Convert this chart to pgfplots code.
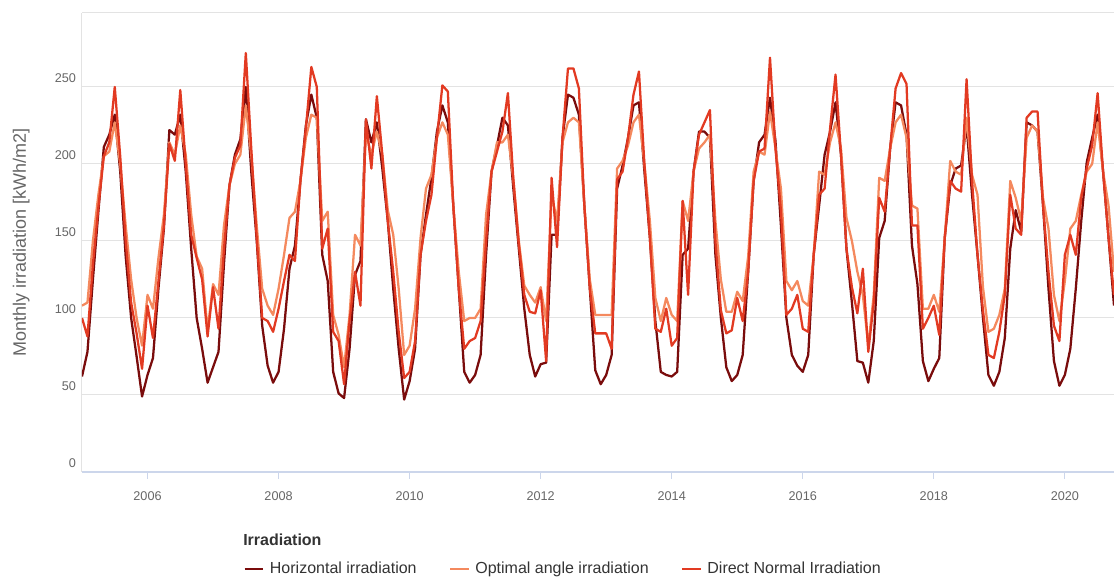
\documentclass[border=0pt]{standalone}
\usepackage{fontspec}
\setmainfont{Liberation Sans}
\usepackage{pgfplots}
\usepackage{pgfplotstable}
\pgfplotsset{compat=1.18}
\definecolor{cH}{HTML}{7A0C0C}
\definecolor{cO}{HTML}{F4895E}
\definecolor{cD}{HTML}{E23A22}
\definecolor{gridc}{HTML}{E3E3E3}
\definecolor{axisc}{HTML}{CCD6EB}
\definecolor{labc}{HTML}{666666}
\definecolor{legc}{HTML}{333333}

\pgfplotstableread{
n H O D
0 62 108 100
1 78 110 88
2 125 150 135
3 169 180 172
4 211 205 205
5 219 208 214
6 232 227 250
7 195 200 205
8 140 160 150
9 100 125 110
10 75 100 90
11 49 82 67
12 63 115 108
13 74 106 87
14 119 139 124
15 158 167 160
16 222 214 213
17 219 206 202
18 232 225 248
19 195 206 200
20 145 167 154
21 100 140 139
22 80 132 125
23 58 92 88
24 68 122 120
25 78 115 93
26 135 160 145
27 186 186 186
28 206 200 204
29 216 206 212
30 250 238 272
31 195 206 210
32 150 160 152
33 95 119 100
34 69 108 98
35 58 102 91
36 65 119 106
37 93 141 124
38 132 165 141
39 147 169 137
40 189 189 189
41 225 217 223
42 245 232 263
43 230 230 250
44 141 163 145
45 124 169 158
46 65 102 91
47 51 89 85
48 48 68 57
49 80 102 98
50 128 154 130
51 137 147 108
52 229 220 229
53 214 206 197
54 227 221 244
55 197 206 206
56 163 170 163
57 119 154 130
58 80 119 91
59 47 76 61
60 59 82 65
61 80 106 85
62 141 152 141
63 167 184 163
64 191 193 180
65 221 217 217
66 238 227 251
67 227 219 247
68 173 173 173
69 119 130 119
70 65 98 80
71 58 100 85
72 63 100 87
73 76 106 98
74 141 167 150
75 195 195 195
76 212 214 208
77 230 214 221
78 225 219 246
79 184 190 190
80 145 150 148
81 106 121 115
82 76 115 104
83 62 110 103
84 70 120 118
85 71 98 72
86 154 180 191
87 154 163 146
88 217 214 217
89 245 227 262
90 243 230 262
91 232 227 249
92 173 173 173
93 119 125 119
94 66 102 90
95 57 102 90
96 63 102 90
97 76 102 80
98 184 197 190
99 199 202 195
100 217 212 217
101 238 227 245
102 240 232 260
103 195 200 200
104 152 163 152
105 98 113 93
106 65 98 91
107 63 113 106
108 62 102 82
109 65 98 87
110 141 176 176
111 145 163 115
112 195 195 195
113 221 210 219
114 221 214 227
115 217 219 235
116 141 163 150
117 100 125 105
118 68 104 90
119 59 104 92
120 63 117 113
121 76 111 98
122 130 140 130
123 189 195 189
124 214 208 208
125 219 206 210
126 243 234 269
127 215 210 210
128 160 184 170
129 100 124 102
130 76 118 106
131 69 124 115
132 65 111 93
133 76 108 91
134 141 141 141
135 173 195 180
136 206 193 184
137 221 214 223
138 240 227 258
139 206 210 206
140 145 165 145
141 110 150 120
142 72 130 103
143 71 115 132
144 58 82 78
145 85 115 110
146 152 191 178
147 163 189 169
148 210 210 210
149 240 227 249
150 238 232 259
151 219 217 252
152 147 173 160
153 122 171 160
154 72 106 93
155 59 106 100
156 67 115 108
157 74 104 89
158 152 152 152
159 186 202 189
160 197 195 184
161 199 193 182
162 225 230 255
163 180 193 189
164 141 180 141
165 100 120 105
166 63 91 76
167 56 93 74
168 65 102 91
169 87 119 115
170 145 189 180
171 170 178 158
172 156 163 154
173 227 217 230
174 225 225 234
175 221 221 234
176 173 178 173
177 119 158 130
178 72 115 95
179 56 98 85
180 63 124 141
181 80 158 154
182 119 163 141
183 163 180 178
184 201 195 197
185 217 200 212
186 232 227 246
187 195 195 195
188 152 173 152
189 108 130 115
}\datatable

\begin{document}
\begin{tikzpicture}
\useasboundingbox (-61.5pt,-79.5pt) rectangle (774pt,354pt);
\begin{axis}[
  scale only axis, width=774pt, height=344.25pt,
  xmin=0, xmax=189, ymin=0, ymax=298,
  clip mode=individual,
  axis line style={draw=none},
  xtick={12,36,60,84,108,132,156,180},
  xticklabels={2006,2008,2010,2012,2014,2016,2018,2020},
  xtick pos=bottom, ytick pos=left,
  ytick={0,50,100,150,200,250},
  ymajorgrids, grid style={gridc, line width=0.75pt},
  tick align=outside, major tick length=5pt,
  major x tick style={axisc, line width=0.75pt},
  major y tick style={draw=none},
  x tick label style={font=\fontsize{9.5}{11}\selectfont, text=labc, yshift=-6pt},
  y tick label style={font=\fontsize{9.5}{11}\selectfont, text=labc, yshift=6.5pt, xshift=4pt},
  /pgf/number format/assume math mode=true,
  ylabel={Monthly irradiation [kWh/m2]},
  ylabel style={font=\fontsize{13.5}{15}\selectfont, text=labc, at={(axis description cs:-0.059,0.5)}, anchor=center},
  legend style={draw=none, fill=none, inner sep=0pt, at={(axis description cs:0.156,-0.2113)}, anchor=west,
    font=\fontsize{12}{14}\selectfont, text=legc,
    /tikz/every odd column/.append style={column sep=2pt},
    /tikz/every even column/.append style={column sep=22pt}},
  legend columns=3,
  legend cell align=left,
  legend image code/.code={\draw[#1, line width=2pt] (0pt,0pt) -- (14pt,0pt);},
]
\draw[gridc, line width=0.75pt] (rel axis cs:0,1) -- (rel axis cs:1,1);
\draw[gridc, line width=0.75pt] (rel axis cs:0,0) -- (rel axis cs:0,1);
\draw[axisc, line width=1pt] (rel axis cs:0,0) -- (rel axis cs:1,0);
\addplot[cH, line width=1.7pt, line join=round] table[x=n,y=H]{\datatable};
\addlegendentry{Horizontal irradiation}
\addplot[cO, line width=1.7pt, line join=round] table[x=n,y=O]{\datatable};
\addlegendentry{Optimal angle irradiation}
\addplot[cD, line width=1.7pt, line join=round] table[x=n,y=D]{\datatable};
\addlegendentry{Direct Normal Irradiation}
\node[anchor=west, inner sep=0pt, font=\bfseries\fontsize{12}{14}\selectfont, text=legc] at (axis description cs:0.156,-0.148) {Irradiation};
\end{axis}
\end{tikzpicture}
\end{document}
